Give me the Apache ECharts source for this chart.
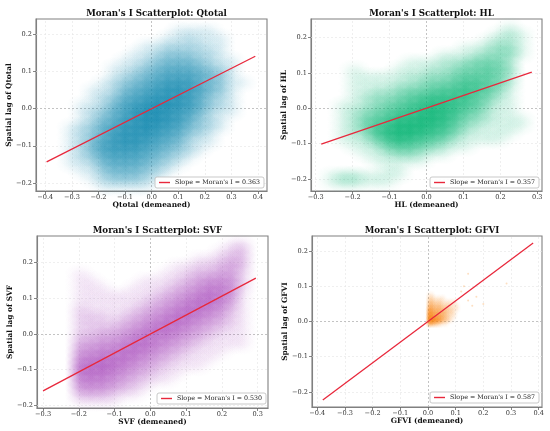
<!DOCTYPE html>
<html><head><meta charset="utf-8">
<script src="https://cdn.jsdelivr.net/npm/echarts@6/dist/echarts.min.js"></script>
<style>html,body{margin:0;padding:0;background:#fff}#c{width:550px;height:431px}</style>
</head><body><div id="c"></div>
<script>
// ---------------- DATA ----------------
const panelNames = ['Qtotal', 'HL', 'SVF', 'GFVI'];
const moransI = [0.363, 0.357, 0.530, 0.587];
const lineXStart = [-0.395, -0.285, -0.30, -0.38];
const lineXEnd = [0.39, 0.285, 0.295, 0.38];
const xRange = [[-0.435, 0.434], [-0.3127, 0.3127], [-0.317, 0.329], [-0.419, 0.412]];
const yRange = [[-0.222, 0.242], [-0.234, 0.252], [-0.207, 0.274], [-0.243, 0.243]];
const xTicks = [
  [-0.4, -0.3, -0.2, -0.1, 0.0, 0.1, 0.2, 0.3, 0.4],
  [-0.3, -0.2, -0.1, 0.0, 0.1, 0.2, 0.3],
  [-0.3, -0.2, -0.1, 0.0, 0.1, 0.2, 0.3],
  [-0.4, -0.3, -0.2, -0.1, 0.0, 0.1, 0.2, 0.3, 0.4]
];
const yTicks = [
  [-0.2, -0.1, 0.0, 0.1, 0.2],
  [-0.2, -0.1, 0.0, 0.1, 0.2],
  [-0.2, -0.1, 0.0, 0.1, 0.2],
  [-0.2, -0.1, 0.0, 0.1, 0.2]
];
// density grids: [first column centre x, column step, top row centre y, row step]
const qtotalCells = [-0.38, 0.04, 0.21, 0.02];
const qtotalDensity = [
  "00000000000011110000",
  "00000000000112111000",
  "00000000011222211000",
  "00000000112333221000",
  "00000001123444321100",
  "00000011234555432100",
  "00000012345666543100",
  "00000123456777543110",
  "00001124567887643100",
  "00001235678887532100",
  "00011246789987532100",
  "00012356899876421100",
  "00012457899875321000",
  "00123568898764321000",
  "00123578887653210000",
  "00124678876542110000",
  "00124677765432100000",
  "00123566654321000000",
  "00112455543210000000",
  "00011344432100000000",
  "00001233321000000000",
  "00000111110000000000"
];
const hlCells = [-0.285, 0.03, 0.23, 0.02];
const hlDensity = [
  "00000000000000000100",
  "00000000000000001210",
  "00000000000000012210",
  "00000000000001123310",
  "00000000000111233310",
  "00000000111223444200",
  "00010001112234454300",
  "00011111223345554200",
  "00011112234456654200",
  "00011223445667653100",
  "00012334567777542100",
  "00112345678876531100",
  "00123456789875421100",
  "00124568899864321110",
  "00124679998753211110",
  "00123689987642111100",
  "00112468765421111000",
  "00011245543211000000",
  "00001123321100000000",
  "00000111110000000000",
  "00000011000000000000",
  "01221111000000000000",
  "01221110000000000000"
];
const svfCells = [-0.195, 0.03, 0.25, 0.02];
const svfDensity = [
  "0000000000000012",
  "0000000000000123",
  "0000000000011233",
  "0000000001122343",
  "1000000011233442",
  "1100001112345552",
  "1110011123456652",
  "1111111234567651",
  "1111112345677641",
  "2111123456776531",
  "2221234567765421",
  "2222345677654321",
  "2233456776543211",
  "3344567665432111",
  "4455677654321111",
  "5566776543211100",
  "6677765432111000",
  "7787654321110000",
  "7776543211000000",
  "6665432110000000",
  "5554321000000000",
  "3332110000000000",
  "1111000000000000"
];
const gfviCells = [0.005, 0.01, 0.075, 0.01];
const gfviDensity = [
  "110000000000",
  "221111000000",
  "332221111100",
  "443332221110",
  "654443322110",
  "765544322100",
  "876554321100",
  "998764321000",
  "654321100000"
];
const gfviOutliers = [[0.145, 0.06], [0.175, 0.07], [0.145, 0.136], [0.12, 0.085], [0.2, 0.05], [0.284, 0.108], [0.13, 0.1], [0.16, 0.045]];

// ---------------- STYLE / LAYOUT ----------------
const cellsList = [qtotalCells, hlCells, svfCells, gfviCells];
const densityList = [qtotalDensity, hlDensity, svfDensity, gfviDensity];
const colorsRGB = [[10, 132, 172], [2, 178, 112], [155, 48, 178], [247, 122, 0]];
const maxAlpha = [0.9, 0.88, 0.68, 0.92];
const gridsPx = [
  {left: 36, top: 19, width: 231, height: 172},
  {left: 311, top: 19, width: 231, height: 172},
  {left: 37, top: 236, width: 231, height: 172},
  {left: 312, top: 236, width: 230, height: 171}
];
const legendPos = [
  {right: 286, bottom: 243},
  {right: 11, bottom: 243},
  {right: 284, bottom: 27},
  {right: 11, bottom: 28}
];
const FONT = 'DejaVu Serif';
const rgba = (c, a) => 'rgba(' + c[0] + ',' + c[1] + ',' + c[2] + ',' + Math.min(1, a).toFixed(3) + ')';
const fmt = v => (v < 0 ? '\u2212' : '') + Math.abs(v).toFixed(1);

const option = {
  animation: false,
  backgroundColor: '#fff',
  title: [], grid: [], xAxis: [], yAxis: [], series: [], legend: []
};

panelNames.forEach((name, i) => {
  const g = gridsPx[i];
  option.grid.push(Object.assign({show: true, borderColor: '#808080', borderWidth: 1.1, backgroundColor: 'transparent', z: 0}, g));
  option.title.push({
    text: "Moran's I Scatterplot: " + name,
    left: g.left + g.width / 2, top: g.top - 15, textAlign: 'center',
    textStyle: {fontFamily: FONT, fontWeight: 'bold', fontSize: 8.7, color: '#111'}
  });
  const axisCommon = {
    type: 'value', gridIndex: i,
    axisLine: {show: true, onZero: false, lineStyle: {color: '#808080', width: 1.1}},
    splitLine: {show: false},
    nameLocation: 'middle',
    nameTextStyle: {fontFamily: FONT, fontWeight: 'bold', fontSize: 7.4, color: '#111'}
  };
  option.xAxis.push(Object.assign({}, axisCommon, {
    min: xRange[i][0], max: xRange[i][1],
    name: name + ' (demeaned)', nameGap: 11,
    axisTick: {show: true, length: 3, lineStyle: {color: '#666', width: 0.8}, customValues: xTicks[i]},
    axisLabel: {customValues: xTicks[i], formatter: fmt, fontFamily: FONT, fontSize: 6.6, color: '#333', margin: 3}
  }));
  option.yAxis.push(Object.assign({}, axisCommon, {
    min: yRange[i][0], max: yRange[i][1],
    name: 'Spatial lag of ' + name, nameGap: 21,
    axisTick: {show: true, length: 3, lineStyle: {color: '#666', width: 0.8}, customValues: yTicks[i]},
    axisLabel: {customValues: yTicks[i], formatter: fmt, fontFamily: FONT, fontSize: 6.6, color: '#333', margin: 4}
  }));

  // grid lines + zero lines (bottom layer)
  const gl = [];
  xTicks[i].forEach(v => { if (Math.abs(v) > 1e-9) gl.push({xAxis: v, lineStyle: {color: '#e4e4e4', width: 0.6, type: [2, 2]}}); });
  yTicks[i].forEach(v => { if (Math.abs(v) > 1e-9) gl.push({yAxis: v, lineStyle: {color: '#e4e4e4', width: 0.6, type: [2, 2]}}); });
  gl.push({xAxis: 0, lineStyle: {color: '#b4b4b4', width: 0.8, type: [2, 2]}});
  gl.push({yAxis: 0, lineStyle: {color: '#b4b4b4', width: 0.8, type: [2, 2]}});
  option.series.push({
    type: 'scatter', xAxisIndex: i, yAxisIndex: i, data: [], zlevel: 0, z: 1, silent: true,
    markLine: {silent: true, symbol: 'none', label: {show: false}, animation: false,
      lineStyle: {color: '#e4e4e4', width: 0.6, type: [2, 2]}, data: gl}
  });

  // density cloud
  const cells = cellsList[i];
  const rows = densityList[i];
  const cw = g.width * cells[1] / (xRange[i][1] - xRange[i][0]);
  const ch = g.height * cells[3] / (yRange[i][1] - yRange[i][0]);
  const data = [];
  rows.forEach((row, r) => {
    for (let c = 0; c < row.length; c++) {
      const d = +row[c];
      if (!d) continue;
      const a = maxAlpha[i] * (d / 9);
      data.push({
        value: [cells[0] + c * cells[1], cells[2] - r * cells[3]],
        itemStyle: {color: new echarts.graphic.RadialGradient(0.5, 0.5, 0.5, [
          {offset: 0, color: rgba(colorsRGB[i], a)},
          {offset: 0.3, color: rgba(colorsRGB[i], a * 0.75)},
          {offset: 0.6, color: rgba(colorsRGB[i], a * 0.35)},
          {offset: 1, color: rgba(colorsRGB[i], 0)}
        ])}
      });
    }
  });
  option.series.push({
    type: 'scatter', xAxisIndex: i, yAxisIndex: i, data: data, zlevel: 1, z: 2, silent: true,
    symbol: 'circle', symbolSize: [cw * 3, ch * 3], large: false, progressive: 0
  });
  if (i === 3) {
    option.series.push({
      type: 'scatter', xAxisIndex: i, yAxisIndex: i, data: gfviOutliers, zlevel: 1, z: 2, silent: true,
      symbol: 'circle', symbolSize: 2, itemStyle: {color: rgba(colorsRGB[i], 0.3)}
    });
  }

  // regression line
  const lname = "Slope = Moran's I = " + moransI[i].toFixed(3);
  option.series.push({
    type: 'line', name: lname, xAxisIndex: i, yAxisIndex: i, zlevel: 1, z: 5, silent: true,
    data: [[lineXStart[i], moransI[i] * lineXStart[i]], [lineXEnd[i], moransI[i] * lineXEnd[i]]],
    symbol: 'none', lineStyle: {color: '#e8283c', width: 1.3}, itemStyle: {color: '#e8283c'}
  });
  option.legend.push(Object.assign({
    data: [{name: lname, icon: 'rect'}], orient: 'horizontal', selectedMode: false, zlevel: 2,
    itemWidth: 11, itemHeight: 1.4, itemGap: 5,
    textStyle: {fontFamily: FONT, fontSize: 6.3, color: '#222'},
    borderColor: '#bbb', borderWidth: 0.8, borderRadius: 2, padding: [2.5, 4, 2.5, 4],
    backgroundColor: 'rgba(255,255,255,0.85)'
  }, legendPos[i]));
});

const chart = echarts.init(document.getElementById('c'));
chart.setOption(option);
</script>
</body></html>
